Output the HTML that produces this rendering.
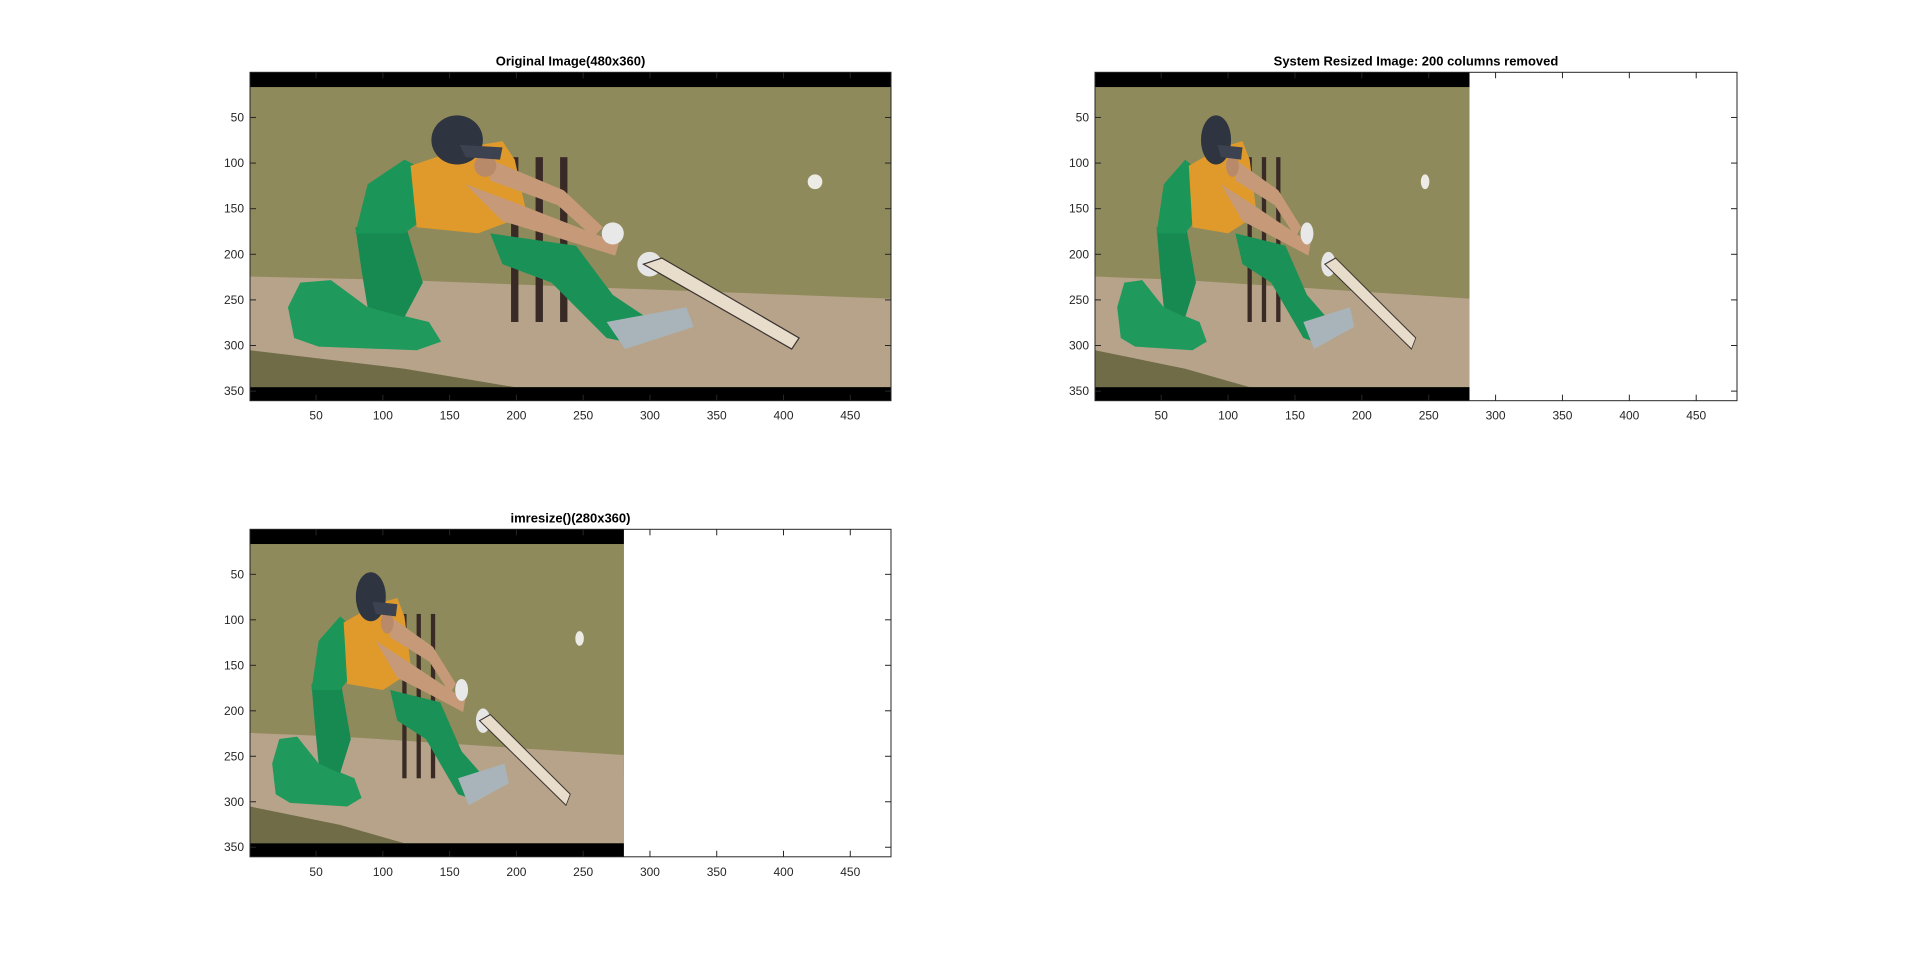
<!DOCTYPE html>
<html><head><meta charset="utf-8"><style>
html,body{margin:0;padding:0;background:#fff;width:1920px;height:963px;overflow:hidden}
svg text{font-family:"Liberation Sans",Arial,sans-serif}
</style></head><body>
<svg id="fig" width="1920" height="963" viewBox="0 0 1920 963" xmlns="http://www.w3.org/2000/svg">
<defs>
<g id="scene">
  <rect x="204" y="59" width="523" height="267" fill="#8b8658"/>
  <rect x="204" y="59" width="523" height="200" fill="#8f8a5b"/>
  <polygon points="204,225 330,228 727,243 727,315 204,315" fill="#b6a38a"/>
  <polygon points="204,285 330,300 420,315 204,315" fill="#6f6c47"/>
  <rect x="417" y="128" width="6" height="134" fill="#3a2a26"/>
  <rect x="437" y="128" width="6" height="134" fill="#3a2a26"/>
  <rect x="457" y="128" width="6" height="134" fill="#3a2a26"/>
  <polygon points="235,250 245,230 270,228 300,250 350,262 360,278 340,285 260,282 240,275" fill="#1f9a5c"/>
  <polygon points="290,185 330,180 345,230 330,258 300,250 295,220" fill="#178a52"/>
  <polygon points="290,190 300,150 330,130 360,145 370,160 330,190" fill="#1b9658"/>
  <polygon points="335,135 380,120 410,115 420,130 430,175 390,190 340,185" fill="#df9a2b"/>
  <polygon points="400,190 470,200 500,240 530,260 520,280 495,275 450,230 410,215" fill="#1a9156"/>
  <polygon points="495,262 560,250 566,266 510,284" fill="#a9b4ba"/>
  <polygon points="400,130 460,155 492,185 484,193 455,167 400,147" fill="#c69a79"/>
  <polygon points="380,150 420,165 505,198 502,208 450,192 410,180" fill="#c69a79"/>
  <circle cx="500" cy="190" r="9" fill="#e8e8e8"/>
  <circle cx="530" cy="215" r="10" fill="#e6e6e6"/>
  <polygon points="525,215 540,210 652,275 646,284" fill="#e8dccb" stroke="#3a3330" stroke-width="1"/>
  <circle cx="396" cy="135" r="9" fill="#b98a6a"/>
  <ellipse cx="373" cy="114" rx="21" ry="20" fill="#2e3440"/>
  <polygon points="375,118 410,120 408,130 380,128" fill="#3c4250"/>
  <ellipse cx="665" cy="148" rx="6" ry="6" fill="#ecebe6"/>
  <rect x="204" y="59" width="523" height="12" fill="#000"/>
  <rect x="204" y="315" width="523" height="11" fill="#000"/>
</g>
</defs>
<g id="axes"></g>
</svg>
<script>
const xTicks=[50,100,150,200,250,300,350,400,450];
const yTicks=[50,100,150,200,250,300,350];
const xLim=[0.5,480.5];
const yLim=[0.5,360.5];
const panelTitles=["Original Image(480x360)","System Resized Image: 200 columns removed","imresize()(280x360)"];
const imageWidths=[480,280,280];
const panels=[{l:250,t:72.3,w:641,h:328.4},{l:1095,t:72.3,w:642,h:328.4},{l:250,t:529.3,w:641,h:327.5}];
const NS="http://www.w3.org/2000/svg";
const root=document.getElementById('axes');
function mk(tag,attrs,parent){const e=document.createElementNS(NS,tag);for(const k in attrs)e.setAttribute(k,attrs[k]);parent.appendChild(e);return e;}
panels.forEach((p,i)=>{
  const sx=v=>p.l+(v-xLim[0])/(xLim[1]-xLim[0])*p.w;
  const sy=v=>p.t+(v-yLim[0])/(yLim[1]-yLim[0])*p.h;
  const g=mk('g',{},root);
  
  
  const imgW=sx(imageWidths[i]+0.5)-p.l;
  const img=mk('svg',{x:p.l,y:p.t,width:imgW,height:p.h,viewBox:"204 59 523 267",preserveAspectRatio:"none"},g);
  
  
  mk('use',{href:'#scene'},img);
  const box=mk('rect',{x:p.l,y:p.t,width:p.w,height:p.h,fill:'none',stroke:'#262626','stroke-width':1},g);
  
  
  xTicks.forEach(v=>{
    const x=sx(v);
    mk('line',{x1:x,x2:x,y1:p.t+p.h,y2:p.t+p.h-6,stroke:'#262626'},g);
    mk('line',{x1:x,x2:x,y1:p.t,y2:p.t+6,stroke:'#262626'},g);
    const t=mk('text',{x:x,y:p.t+p.h+19,'text-anchor':'middle','font-size':'12',fill:'#262626'},g);
    t.textContent=v;
    
    
  });
  yTicks.forEach(v=>{
    const y=sy(v);
    mk('line',{x1:p.l,x2:p.l+6,y1:y,y2:y,stroke:'#262626'},g);
    mk('line',{x1:p.l+p.w,x2:p.l+p.w-6,y1:y,y2:y,stroke:'#262626'},g);
    const t=mk('text',{x:p.l-6,y:y+4,'text-anchor':'end','font-size':'12',fill:'#262626'},g);
    t.textContent=v;
    
    
  });
  const tt=mk('text',{x:p.l+p.w/2,y:p.t-7,'text-anchor':'middle','font-size':'13','font-weight':'bold',fill:'#000'},g);
  tt.textContent=panelTitles[i];
  
  
});
</script>
</body></html>
